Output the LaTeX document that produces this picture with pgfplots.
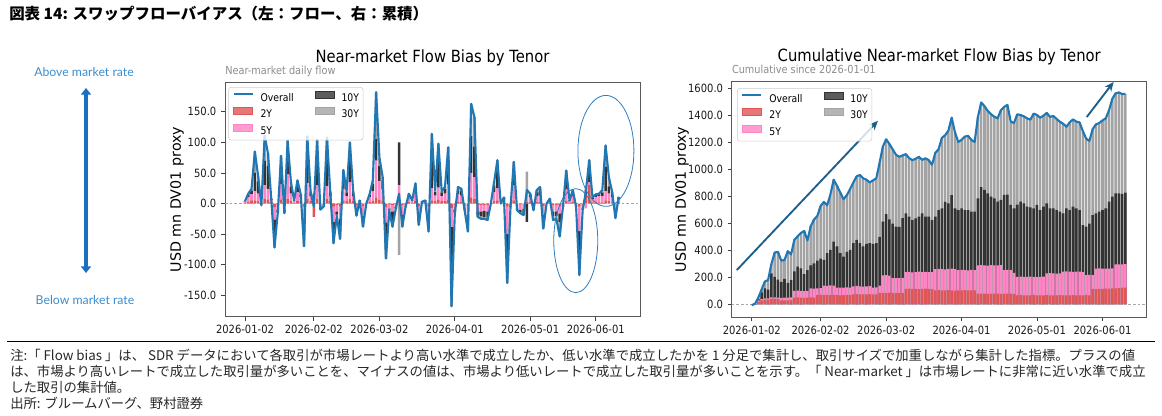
\documentclass[border=0pt]{standalone}
\usepackage{fontspec}
\usepackage{pgfplots}
\pgfplotsset{compat=1.18}
\usepackage{pgfplotstable}
\usetikzlibrary{arrows.meta}
\setmainfont{DejaVu Sans}
\newfontfamily\cf{DejaVu Sans}[FakeStretch=0.88]
\newfontfamily\plainsans{DejaVu Sans}
\newfontfamily\jp{Noto Sans CJK JP}
\newfontfamily\annfam{Lato}
\newcommand\tickf{\cf\fontsize{8.5pt}{10pt}\selectfont}
\newcommand\legf{\cf\fontsize{7.9pt}{9pt}\selectfont}
\newcommand\titf{\cf\fontsize{12.6pt}{14pt}\selectfont}
\newcommand\subf{\cf\fontsize{8.3pt}{10pt}\selectfont}
\newcommand\ylabf{\plainsans\fontsize{10.7pt}{12pt}\selectfont}
\newcommand\jptitle{\jp\bfseries\fontsize{11.6pt}{13pt}\selectfont}
\newcommand\jpfoot{\jp\fontsize{10pt}{12pt}\selectfont}
\newcommand\annf{\annfam\fontsize{9.2pt}{11pt}\selectfont}
\definecolor{c0}{HTML}{1F77B4}
\definecolor{c2}{HTML}{E05555}
\definecolor{c5}{HTML}{FF85C6}
\definecolor{c10}{HTML}{333333}
\definecolor{c30}{HTML}{A3A3A3}
\definecolor{annblue}{HTML}{3C8DD0}
\definecolor{arrblue}{HTML}{1A6FBF}
\definecolor{ellcol}{HTML}{2E7DC0}
\definecolor{arrcol}{HTML}{1D5F8A}
\definecolor{subgray}{HTML}{8C8C8C}

\pgfplotstableread{
i d2 d5 d10 d30 tot
0 1 2 1 0 4
1 3 8 4 1 16
2 5 10 6 3 24
3 5 15 30 35 85
4 4 12 20 9 45
5 -1 -2 0 0 -3
6 8 22 40 41 111
7 6 18 38 20 82
8 2 4 2 0 8
9 -6 -20 -28 -18 -72
10 -3 -7 -4 -1 -15
11 6 26 30 16 78
12 -3 -8 -4 -1 -16
13 8 40 30 25 103
14 4 12 12 7 35
15 1 3 1 0 5
16 4 14 12 8 38
17 3 7 4 1 15
18 -5 -20 -25 -20 -70
19 8 25 45 32 110
20 4 8 6 2 20
21 -22 10 5 2 -5
22 8 22 40 35 105
23 -2 -5 -2 -1 -10
24 -1 -3 -1 0 -5
25 8 20 50 30 108
26 4 8 6 2 20
27 -5 -25 -20 -15 -65
28 -3 -10 -5 -2 -20
29 -5 -20 -20 -13 -58
30 5 18 20 12 55
31 4 8 6 2 20
32 8 27 35 30 100
33 4 8 6 2 20
34 -3 -10 -5 -2 -20
35 1 3 1 0 5
36 -4 -16 -10 -8 -38
37 0 0 0 0 0
38 3 7 4 1 15
39 4 16 12 6 38
40 10 60 35 77 182
41 6 30 25 14 75
42 5 18 14 6 43
43 -6 -25 -45 -14 -90
44 -2 -6 -2 -1 -11
45 -3 -10 -20 -5 -38
46 -1 -5 -2 0 -8
47 0 30 70 -84 16
48 -3 -15 -15 -5 -38
49 -1 -3 -1 0 -5
50 3 8 4 1 16
51 1 3 1 0 5
52 4 14 10 5 33
53 -4 -15 -10 -6 -35
54 1 1 1 0 3
55 1 3 1 0 5
56 -5 -15 -16 -10 -46
57 5 20 55 34 114
58 4 9 6 3 22
59 6 20 50 22 98
60 4 8 6 2 20
61 4 12 8 3 27
62 6 25 40 21 92
63 -8 -30 -90 -40 -168
64 -2 -8 -4 -2 -16
65 3 12 8 4 27
66 3 10 8 3 24
67 -2 -6 -2 -1 -11
68 -4 -15 -17 -10 -46
69 10 40 60 53 163
70 8 35 50 48 141
71 -3 -10 -6 -3 -22
72 -3 -10 -8 -4 -25
73 -3 -9 -10 -3 -25
74 -3 -10 -10 -4 -27
75 0 0 0 0 0
76 4 14 11 6 35
77 5 20 35 11 71
78 0 0 0 0 0
79 2 5 2 1 10
80 -5 -45 -55 -25 -130
81 -1 -3 -1 0 -5
82 5 25 25 13 68
83 -2 -6 -2 -1 -11
84 -2 -8 -4 -2 -16
85 -2 -7 -8 -2 -19
86 3 9 -30 40 22
87 3 7 4 2 16
88 -2 -5 -3 -1 -11
89 3 9 6 4 22
90 3 10 10 4 27
91 -4 -15 -12 -10 -41
92 0 0 0 0 0
93 2 4 1 1 8
94 -3 -10 -8 -6 -27
95 -3 -10 -7 -5 -25
96 -4 -12 -14 -24 -54
97 -1 -3 -1 0 -5
98 4 20 20 10 54
99 1 3 1 0 5
100 3 9 6 4 22
101 -1 -3 -1 0 -5
102 -5 -40 -55 -17 -117
103 -2 -6 -2 -1 -11
104 12 -8 10 6 20
105 30 5 18 18 71
106 2 5 2 1 10
107 3 8 3 1 15
108 2 10 3 1 16
109 2 10 6 4 22
110 5 15 40 35 95
111 4 12 12 15 43
112 2 8 6 3 19
113 -2 -10 -8 -4 -24
114 2 5 3 1 11
}\daily

\pgfplotstableread{
i R P D T
0 0 0 -3 -5
1 5 5 5 5
2 20 30 40 50
3 30 40 90 110
4 35 45 119 170
5 35 46 110 182
6 40 52 230 300
7 42 52 205 385
8 40 50 185 390
9 30 48 168 325
10 31 50 190 330
11 30 50 160 395
12 32 52 180 370
13 50 100 245 480
14 52 102 280 505
15 50 100 268 530
16 48 98 225 545
17 50 100 255 475
18 52 120 290 580
19 50 118 305 630
20 70 120 325 655
21 72 122 340 730
22 70 140 330 760
23 71 138 380 735
24 70 142 405 815
25 72 140 465 925
26 70 125 430 880
27 68 124 380 830
28 70 125 355 780
29 71 127 390 810
30 70 125 405 855
31 75 135 455 905
32 76 137 478 950
33 75 135 455 960
34 74 133 430 935
35 75 135 450 925
36 76 136 455 905
37 75 125 450 920
38 74 126 455 935
39 85 140 502 1050
40 86 215 614 1170
41 85 217 670 1225
42 87 214 630 1190
43 85 195 600 1150
44 84 196 577 1110
45 86 195 575 1095
46 85 197 640 1105
47 115 240 675 1115
48 117 242 651 1085
49 115 238 626 1070
50 116 240 638 1080
51 114 243 651 1095
52 115 240 675 1072
53 117 241 651 1084
54 115 239 651 1070
55 113 240 626 1035
56 105 262 651 1125
57 106 264 700 1150
58 104 262 713 1235
59 105 260 760 1255
60 106 263 750 1290
61 105 265 810 1385
62 103 262 713 1275
63 105 255 700 1205
64 104 257 713 1220
65 106 255 700 1245
66 105 253 700 1250
67 104 256 688 1220
68 105 255 688 1205
69 80 290 787 1390
70 81 292 870 1498
71 80 290 850 1470
72 79 288 824 1435
73 80 291 800 1410
74 81 290 787 1392
75 80 289 762 1380
76 79 292 775 1440
77 80 255 812 1465
78 81 257 815 1480
79 80 255 738 1356
80 79 235 713 1345
81 68 205 740 1410
82 69 207 762 1405
83 68 205 750 1395
84 67 204 725 1380
85 68 206 720 1370
86 69 205 713 1415
87 68 203 738 1405
88 67 205 700 1385
89 68 207 725 1400
90 69 230 750 1420
91 68 232 713 1390
92 67 230 713 1398
93 68 229 700 1375
94 69 231 688 1355
95 68 243 675 1340
96 67 245 713 1318
97 68 243 700 1350
98 69 242 725 1372
99 68 244 713 1356
100 67 243 700 1350
101 68 240 589 1285
102 69 218 577 1230
103 68 220 600 1212
104 115 218 663 1300
105 114 265 675 1335
106 116 267 688 1345
107 115 265 700 1365
108 117 266 713 1380
109 118 265 762 1440
110 119 268 800 1525
111 120 297 824 1565
112 122 298 824 1572
113 125 297 820 1560
114 125 299 829 1562
}\cum

\pgfplotsset{
  legline/.style={legend image code/.code={\draw[c0,line width=1.5pt,sharp corners] (0pt,0.3em) -- (14.25pt,0.3em);}},
  legbox/.style={legend image code/.code={\fill[#1,sharp corners] (0pt,0.3em-2.6pt) rectangle (14.25pt,0.3em+2.6pt);}},
  chartbase/.style={
    scale only axis, width=311.25pt, xmin=-6.1, xmax=120.5,
    tick pos=left, tick align=outside, major tick length=3pt,
    every tick/.style={black!75, line width=0.6pt},
    axis line style={black!65, line width=0.7pt},
    xtick={0,21,41,64,87,107},
    xticklabels={2026-01-02,2026-02-02,2026-03-02,2026-04-01,2026-05-01,2026-06-01},
    tick label style={font=\tickf, text=black!90},
    scaled y ticks=false,
    yticklabel style={/pgf/number format/fixed, /pgf/number format/fixed zerofill, /pgf/number format/precision=1, /pgf/number format/1000 sep={}, /pgf/number format/assume math mode=true},
    ylabel={USD mn DV01 proxy},
  },
  over/.style={scale only axis, width=311.25pt, xmin=-6.1, xmax=120.5, hide axis, clip=false},
  myleg/.style={
    legend columns=2, legend cell align=left,
    legend style={at={(#1)}, anchor=north west, font=\legf, draw=black!20, rounded corners=2pt, fill=white, fill opacity=0.8, text opacity=1, inner xsep=3pt, inner ysep=2.5pt, row sep=2.9pt, nodes={inner sep=0pt, text height=6pt, text depth=1.6pt}, /tikz/every odd column/.append style={column sep=5.25pt}, /tikz/every even column/.append style={column sep=16pt}},
  },
}

\begin{document}
\begin{tikzpicture}[x=0.75pt,y=0.75pt]
\path[use as bounding box] (0,0) rectangle (1162,415);

% figure title
\node[anchor=base west, font=\jptitle, inner sep=0pt] at (9,395) {図表 14: スワップフローバイアス（左：フロー、右：累積）};

% left annotation
\node[text=annblue, font=\annf] at (84,343) {Above market rate};
\node[text=annblue, font=\annf] at (85,115) {Below market rate};
\draw[arrblue, line width=2.6pt, {Triangle[length=5pt,width=7.5pt]}-{Triangle[length=5pt,width=7.5pt]}] (86,327) -- (86,142);

% ===== left chart =====
\begin{axis}[chartbase, at={(168.75pt,73.7pt)}, anchor=south west, height=175.8pt,
  ymin=-185, ymax=198, ytick={-150,-100,-50,0,50,100,150},
  ylabel style={font=\ylabf, at={(rel axis cs:-0.1157,0.5)}, anchor=center},
  ybar stacked, bar width=0.8,
  extra description/.code={
    \node[font=\titf, anchor=base] at (0.5,1) [yshift=14.85pt] {Near-market Flow Bias by Tenor};
    \node[font=\subf, text=subgray, anchor=base west, inner sep=0pt] at (0,1) [yshift=5.85pt] {Near-market daily flow};
  }]
\addplot[fill=c2, draw=none] table[x=i, y expr={max(\thisrow{d2},0)}] {\daily};
\addplot[fill=c5, draw=none] table[x=i, y expr={max(\thisrow{d5},0)}] {\daily};
\addplot[fill=c10, draw=none] table[x=i, y expr={max(\thisrow{d10},0)}] {\daily};
\addplot[fill=c30, draw=none] table[x=i, y expr={max(\thisrow{d30},0)}] {\daily};
\end{axis}
\begin{axis}[over, at={(168.75pt,73.7pt)}, anchor=south west, height=175.8pt,
  ymin=-185, ymax=198, ybar stacked, bar width=0.8]
\addplot[fill=c2, draw=none] table[x=i, y expr={min(\thisrow{d2},0)}] {\daily};
\addplot[fill=c5, draw=none] table[x=i, y expr={min(\thisrow{d5},0)}] {\daily};
\addplot[fill=c10, draw=none] table[x=i, y expr={min(\thisrow{d10},0)}] {\daily};
\addplot[fill=c30, draw=none] table[x=i, y expr={min(\thisrow{d30},0)}] {\daily};
\end{axis}
\begin{axis}[over, at={(168.75pt,73.7pt)}, anchor=south west, height=175.8pt,
  ymin=-185, ymax=198, myleg={0.008,0.98}]
\addlegendimage{legline}\addlegendentry{Overall}
\addlegendimage{legbox=c10}\addlegendentry{10Y}
\addlegendimage{legbox=c2}\addlegendentry{2Y}
\addlegendimage{legbox=c30}\addlegendentry{30Y}
\addlegendimage{legbox=c5}\addlegendentry{5Y}
\draw[black!35, line width=0.6pt, dash pattern=on 2pt off 1.5pt] (axis cs:-6.1,0) -- (axis cs:120.5,0);
\addplot[c0, line width=1.6pt, line join=round, no markers] table[x=i, y=tot] {\daily};
\draw[ellcol, line width=0.6pt] (axis cs:110.1,86) ellipse [x radius=21pt, y radius=41.6pt];
\draw[ellcol, line width=0.6pt] (axis cs:100.9,-60.7) ellipse [x radius=16.5pt, y radius=39pt];
\end{axis}

% ===== right chart =====
\begin{axis}[chartbase, at={(548.8pt,73.3pt)}, anchor=south west, height=176.7pt,
  ymin=-95, ymax=1652, ytick={0,200,400,600,800,1000,1200,1400,1600},
  ylabel style={font=\ylabf, at={(rel axis cs:-0.12,0.5)}, anchor=center},
  extra description/.code={
    \node[font=\titf, anchor=base] at (0.5,1) [yshift=14.85pt] {Cumulative Near-market Flow Bias by Tenor};
    \node[font=\subf, text=subgray, anchor=base west, inner sep=0pt] at (0,1) [yshift=5.85pt] {Cumulative since 2026-01-01};
  }]
\addplot[ybar, bar width=0.78, bar shift=0pt, fill=c30, draw=none] table[x=i, y=T] {\cum};
\addplot[ybar, bar width=0.78, bar shift=0pt, fill=c10, draw=none] table[x=i, y=D] {\cum};
\addplot[ybar, bar width=0.78, bar shift=0pt, fill=c5, draw=none] table[x=i, y=P] {\cum};
\addplot[ybar, bar width=0.78, bar shift=0pt, fill=c2, draw=none] table[x=i, y=R] {\cum};
\end{axis}
\begin{axis}[over, at={(548.8pt,73.3pt)}, anchor=south west, height=176.7pt,
  ymin=-95, ymax=1652, myleg={0.013,0.973}]
\addlegendimage{legline}\addlegendentry{Overall}
\addlegendimage{legbox=c10}\addlegendentry{10Y}
\addlegendimage{legbox=c2}\addlegendentry{2Y}
\addlegendimage{legbox=c30}\addlegendentry{30Y}
\addlegendimage{legbox=c5}\addlegendentry{5Y}
\draw[black!35, line width=0.6pt, dash pattern=on 2pt off 1.5pt] (axis cs:-6.1,0) -- (axis cs:120.5,0);
\addplot[c0, line width=1.6pt, line join=round, no markers] table[x=i, y=T] {\cum};
\draw[arrcol, line width=1.4pt, -{Stealth[length=7pt,width=6pt]}] (axis cs:-4.56,255) -- (axis cs:38.5,1362);
\draw[arrcol, line width=1.4pt, -{Stealth[length=7pt,width=6pt]}] (axis cs:102.2,1390) -- (axis cs:110.4,1650);
\end{axis}

% rule and notes
\draw[black, line width=0.75pt] (7,74) -- (1155,74);
\node[anchor=base west, font=\jpfoot, text=black!85, inner sep=0pt] at (10,55) {注:「 Flow bias 」は、 SDR データにおいて各取引が市場レートより高い水準で成立したか、低い水準で成立したかを 1 分足で集計し、取引サイズで加重しながら集計した指標。プラスの値};
\node[anchor=base west, font=\jpfoot, text=black!85, inner sep=0pt] at (10,39) {は、市場より高いレートで成立した取引量が多いことを、マイナスの値は、市場より低いレートで成立した取引量が多いことを示す。「 Near-market 」は市場レートに非常に近い水準で成立};
\node[anchor=base west, font=\jpfoot, text=black!85, inner sep=0pt] at (10,23) {した取引の集計値。};
\node[anchor=base west, font=\jpfoot, text=black!85, inner sep=0pt] at (10,7) {出所: ブルームバーグ、野村證券};
\end{tikzpicture}
\end{document}
